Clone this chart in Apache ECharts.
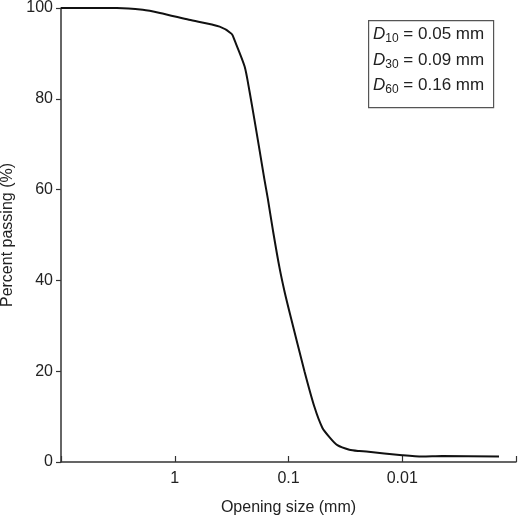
<!DOCTYPE html>
<html>
<head>
<meta charset="utf-8">
<script src="https://cdn.jsdelivr.net/npm/echarts@6/dist/echarts.min.js"></script>
<style>
html,body{margin:0;padding:0;background:#fff;}
#chart{width:520px;height:517px;}
</style>
</head>
<body>
<div id="chart"></div>
<script>
// grain size distribution (opening size in mm, percent passing)
var sizes = [10, 5.57, 3.23, 1.91, 1.35, 0.75, 0.403, 0.316, 0.298, 0.243, 0.22, 0.199, 0.18, 0.163, 0.152, 0.137, 0.12, 0.108, 0.0946, 0.0724, 0.0591, 0.0503, 0.0437, 0.0372, 0.0292, 0.0238, 0.0207, 0.01, 0.00668, 0.00446, 0.00141];
var passing = [100, 100, 100, 99.6, 98.9, 97.4, 95.9, 94.3, 92.9, 87.1, 81.6, 75.3, 68.8, 62.3, 58.0, 51.0, 42.8, 37.4, 31.5, 20.0, 12.1, 7.5, 5.5, 3.7, 2.7, 2.4, 2.3, 1.5, 1.2, 1.3, 1.2];
var xTickLabels = ['1', '0.1', '0.01'];
var dLines = [['10', '0.05'], ['30', '0.09'], ['60', '0.16']];

var font = '"Liberation Sans", Arial, sans-serif';
var axisColor = '#333';
var textColor = '#222';

var data = [];
for (var i = 0; i < sizes.length; i++) {
    data.push([sizes[i], passing[i]]);
}

var chart = echarts.init(document.getElementById('chart'));

var textEls = [];
for (var j = 0; j < dLines.length; j++) {
    textEls.push({
        type: 'text',
        left: 373,
        top: 24 + j * 25.5,
        style: {
            text: '{d|D}{s|' + dLines[j][0] + '}{t| = ' + dLines[j][1] + ' mm}',
            rich: {
                d: {fontFamily: font, fontSize: 17, fontStyle: 'italic', fill: textColor, lineHeight: 20},
                s: {fontFamily: font, fontSize: 12, fill: textColor, padding: [9, 0, 0, 0], lineHeight: 20},
                t: {fontFamily: font, fontSize: 17, fill: textColor, lineHeight: 20}
            }
        }
    });
}

var option = {
    animation: false,
    grid: {left: 61, right: 4, top: 8, bottom: 55, containLabel: false, outerBoundsMode: 'none'},
    xAxis: {
        type: 'log',
        logBase: 10,
        min: 0.001,
        max: 10,
        inverse: true,
        name: 'Opening size (mm)',
        nameLocation: 'middle',
        nameGap: 38,
        nameTextStyle: {fontFamily: font, fontSize: 16, color: textColor},
        axisLine: {lineStyle: {color: axisColor, width: 1.5}},
        axisTick: {inside: true, length: 6, lineStyle: {color: axisColor, width: 1.2}},
        axisLabel: {
            fontFamily: font, fontSize: 16, color: textColor, margin: 9,
            formatter: function (v) {
                var s = String(+v.toPrecision(3));
                return xTickLabels.indexOf(s) >= 0 ? s : '';
            }
        },
        splitLine: {show: false}
    },
    yAxis: {
        type: 'value',
        min: 0,
        max: 100,
        interval: 20,
        name: 'Percent passing (%)',
        nameLocation: 'middle',
        nameGap: 40,
        nameTextStyle: {fontFamily: font, fontSize: 16, color: textColor},
        axisLine: {show: true, lineStyle: {color: axisColor, width: 1.5}},
        axisTick: {show: true, length: 5, lineStyle: {color: axisColor, width: 1.2}},
        axisLabel: {fontFamily: font, fontSize: 16, color: textColor, margin: 8},
        splitLine: {show: false}
    },
    series: [{
        type: 'line',
        data: data,
        smooth: 0.25,
        showSymbol: false,
        lineStyle: {color: '#111', width: 2}
    }],
    graphic: [{
        type: 'rect',
        left: 368,
        top: 20,
        shape: {width: 125, height: 87},
        style: {fill: '#fff', stroke: '#555', lineWidth: 1.2}
    }].concat(textEls)
};

chart.setOption(option);
</script>
</body>
</html>
